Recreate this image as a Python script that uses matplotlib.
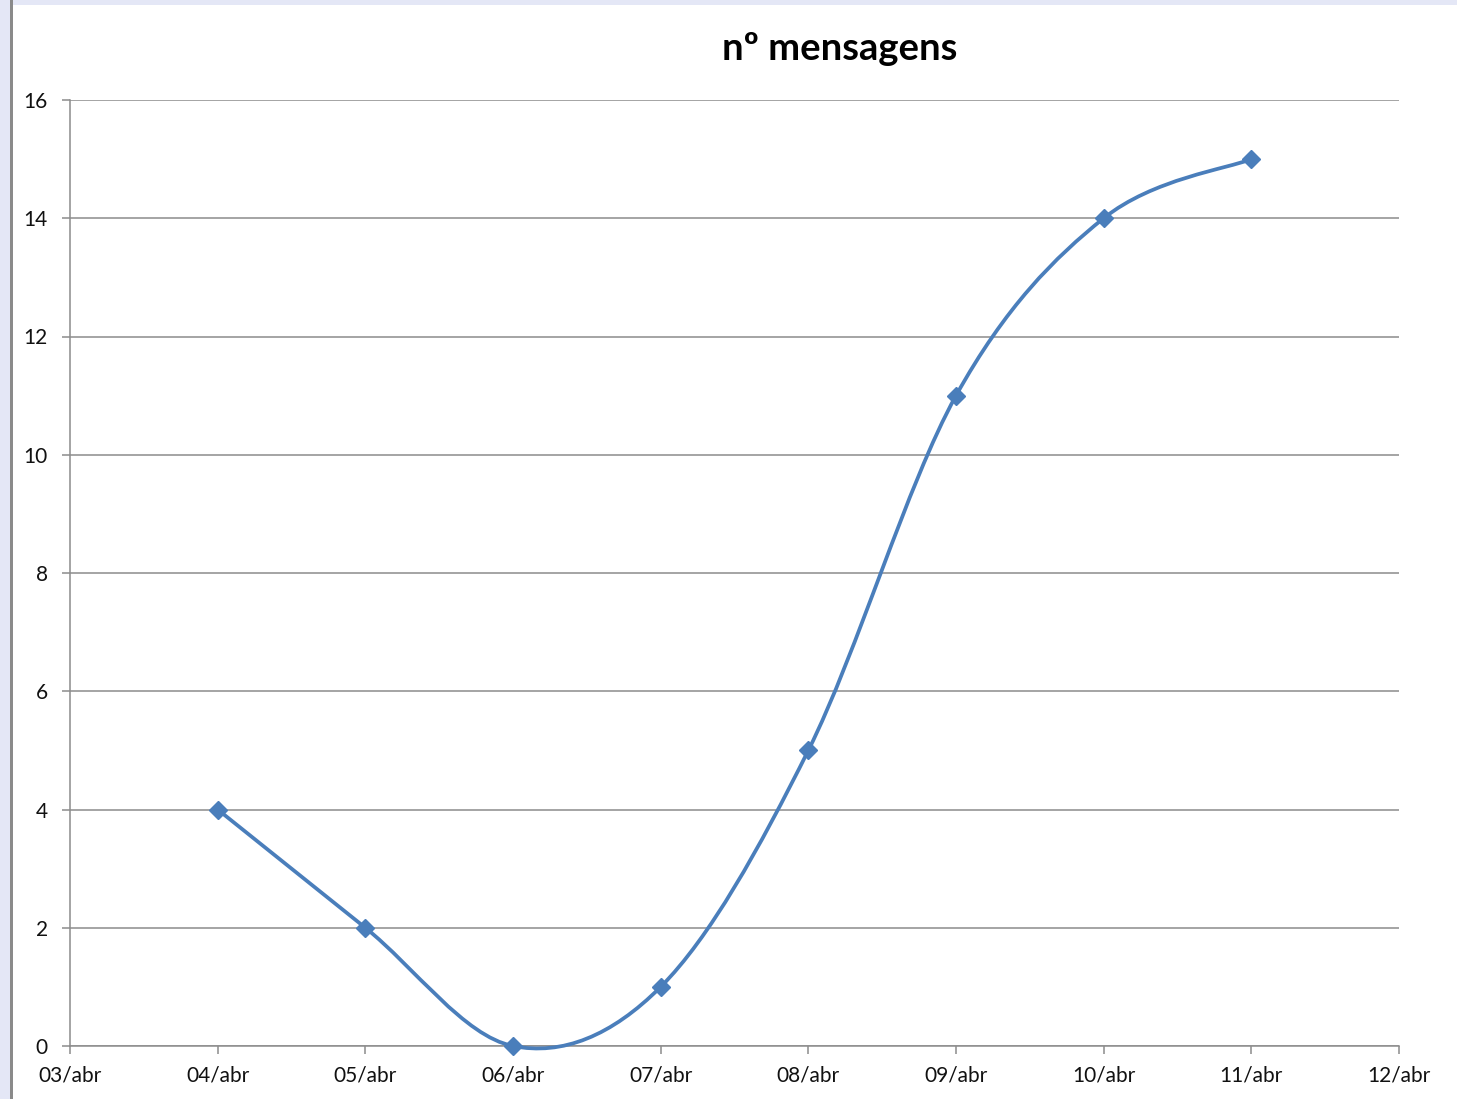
import matplotlib.pyplot as plt
from matplotlib.path import Path
from matplotlib.patches import PathPatch, Rectangle
import numpy as np

plt.rcParams['font.family'] = ['Lato', 'DejaVu Sans']

day_labels = ['03/abr', '04/abr', '05/abr', '06/abr', '07/abr',
              '08/abr', '09/abr', '10/abr', '11/abr', '12/abr']
msg_days = ['04/abr', '05/abr', '06/abr', '07/abr',
            '08/abr', '09/abr', '10/abr', '11/abr']
msg_counts = [4, 2, 0, 1, 5, 11, 14, 15]

line_color = '#4a7ebb'
grid_color = '#8c8c8c'

fig = plt.figure(figsize=(14.57, 10.99), dpi=100)
fig.patch.set_facecolor('white')

# window frame bits from the screenshot
fig.patches.append(Rectangle((0, 1 - 5 / 1099), 1, 5 / 1099, transform=fig.transFigure,
                             facecolor='#e4e7f6', edgecolor='none'))
fig.patches.append(Rectangle((0, 0), 10 / 1457, 1, transform=fig.transFigure,
                             facecolor='#e4e7f6', edgecolor='none'))
fig.patches.append(Rectangle((10 / 1457, 0), 3 / 1457, 1, transform=fig.transFigure,
                             facecolor='#8a8a8a', edgecolor='none'))

ax = fig.add_axes([70 / 1457, 1 - 1046 / 1099, 1329 / 1457, 946 / 1099])

x = np.array([day_labels.index(d) for d in msg_days], dtype=float)
y = np.array(msg_counts, dtype=float)

# smoothed line, Excel style (Catmull-Rom bezier)
verts = [(x[0], y[0])]
codes = [Path.MOVETO]
n = len(x)
for i in range(n - 1):
    p0 = np.array([x[max(i - 1, 0)], y[max(i - 1, 0)]])
    p1 = np.array([x[i], y[i]])
    p2 = np.array([x[i + 1], y[i + 1]])
    p3 = np.array([x[min(i + 2, n - 1)], y[min(i + 2, n - 1)]])
    c1 = p1 + (p2 - p0) / 6
    c2 = p2 - (p3 - p1) / 6
    verts += [tuple(c1), tuple(c2), tuple(p2)]
    codes += [Path.CURVE4] * 3
ax.add_patch(PathPatch(Path(verts, codes), facecolor='none', edgecolor=line_color,
                       linewidth=2.7, zorder=3, capstyle='round', clip_on=False))
ax.plot(x, y, linestyle='none', marker='D', markersize=9, color=line_color,
        zorder=4, clip_on=False)

ax.set_xlim(0, len(day_labels) - 1)
ax.set_ylim(0, 16)
ax.set_xticks(range(len(day_labels)))
ax.set_xticklabels(day_labels)
ax.set_yticks(range(0, 17, 2))

ax.grid(axis='y', color=grid_color, linewidth=1.1)
ax.set_axisbelow(True)
for side in ['top', 'right']:
    ax.spines[side].set_visible(False)
for side in ['left', 'bottom']:
    ax.spines[side].set_color(grid_color)
    ax.spines[side].set_linewidth(1.1)
ax.tick_params(axis='both', direction='out', length=6, width=1.1, color=grid_color,
               labelsize=15, labelcolor='#111111')
ax.tick_params(axis='y', pad=10)
ax.tick_params(axis='x', pad=8)

fig.text(840 / 1457, 1 - 49 / 1099, 'nº mensagens', ha='center', va='center',
         fontsize=27.5, fontweight='bold', color='black')

fig.savefig('out.png', dpi=100)
